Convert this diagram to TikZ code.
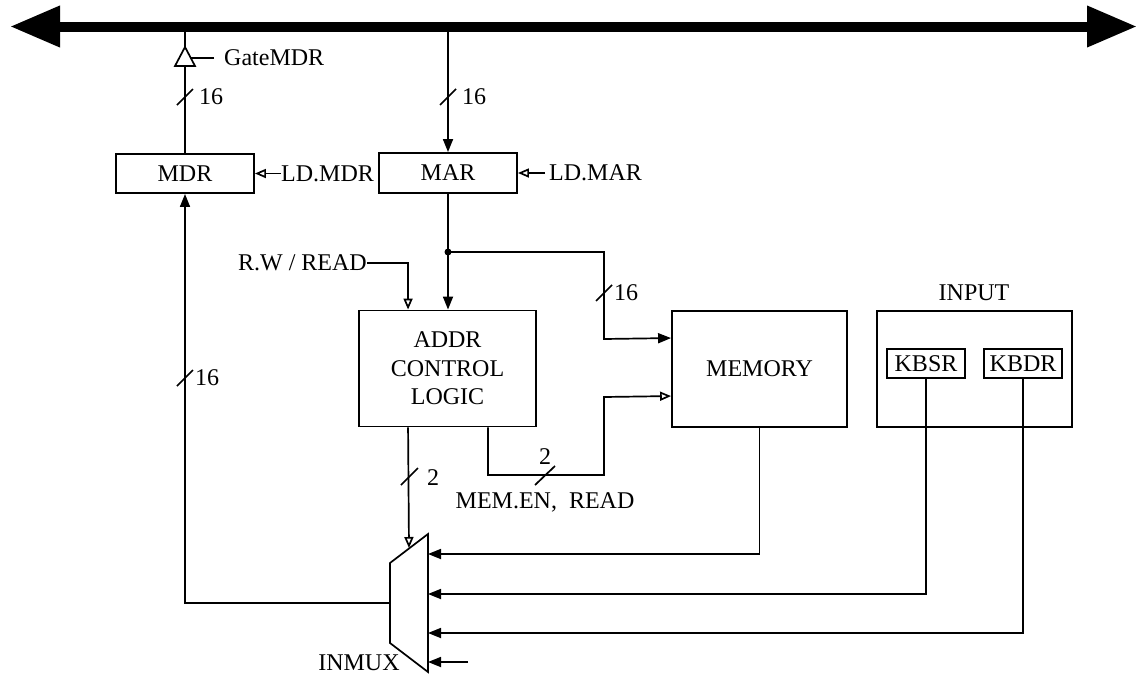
\documentclass[tikz,border=0pt]{standalone}
\usepackage{fontspec}
\setmainfont{Liberation Serif}
\usetikzlibrary{arrows.meta,calc}
\begin{document}
\begin{tikzpicture}[x=1pt,y=-1pt,
  every node/.style={font=\fontsize{24}{28.5}\selectfont, inner sep=0pt},
  wire/.style={line width=1.7pt},
  box/.style={draw, line width=1.9pt},
  arr/.style={wire, -{Triangle[length=13pt,width=10pt]}},
  openarr/.style={wire, -{Triangle[open,length=11pt,width=9pt]}},
  busline/.style={line width=10pt, {Triangle[length=50pt,width=39pt]}-{Triangle[length=50pt,width=39pt]}}]
\useasboundingbox (0,0) rectangle (1145,675);

% bus
\coordinate (busL) at (10,26.5);
\coordinate (busR) at (1137,26.5);
\draw[busline] (busL) -- (busR);

% boxes
\node[box, minimum width=138pt, minimum height=39pt] (MDR) at (185,173.5) {MDR};
\node[box, minimum width=138pt, minimum height=40pt] (MAR) at (448,173) {MAR};
\node[box, minimum width=177pt, minimum height=116pt, align=center] (ADDR) at (447.5,368.5) {ADDR\\CONTROL\\LOGIC};
\node[box, minimum width=175pt, minimum height=116pt] (MEM) at (759.5,369) {MEMORY};
\node[box, minimum width=195pt, minimum height=116pt] (INP) at (974.5,369) {};
\node (inputlbl) at (974,293) {INPUT};
\node[box, minimum width=78pt, minimum height=29pt] (KBSR) at (926,363.5) {KBSR};
\node[box, minimum width=78pt, minimum height=29pt] (KBDR) at (1023,363.5) {KBDR};

% tri-state buffer GateMDR
\coordinate (bufT) at (185,47);
\coordinate (bufBL) at (175,66);
\coordinate (bufBR) at (195,66);
\coordinate (bufB) at (185,66);
\coordinate (gateIn) at (191,58);
\draw[wire, line join=miter] (bufBL) -- (bufBR) -- (bufT) -- cycle;
\draw[wire] (MDR.north) -- (bufB);
\draw[wire] (bufT) -- (bufT |- busL);
\node[anchor=west] (gate) at (224,58) {GateMDR};
\draw[wire, shorten <=10pt] (gate.west) -- (gateIn);
\draw[wire] (177,105) -- ++(16,-16);
\node (l16a) at (211,97) {16};

% load signals
\node[anchor=west] (ldmdr) at (281,173.5) {LD.MDR};
\draw[openarr] (ldmdr.west) -- (MDR.east);
\node[anchor=west] (ldmar) at (549,173) {LD.MAR};
\draw[openarr, shorten <=4pt] (ldmar.west) -- (MAR.east);

% bus to MAR
\draw[arr] (MAR.north |- busL) -- (MAR.north);
\draw[wire] (440,105) -- ++(16,-16);
\node (l16b) at (474,97) {16};

% MAR to ADDR and MEMORY
\coordinate (j) at (448,252);
\draw[wire] (MAR.south) -- (j);
\fill (j) circle (3.5pt);
\draw[arr] (j) -- (j |- ADDR.north);
\draw[arr] (j) -- (604,252) -- (604,339) -- ($(MEM.north west)+(0,28)$);
\draw[wire] (596,301) -- ++(16,-16);
\node (l16c) at (626,293) {16};

% R.W / READ
\node[anchor=east] (rw) at (367,263) {R.W / READ};
\draw[openarr] (rw.east) -| ($(ADDR.north west)+(50,0)$);

% ADDR to MEMORY control
\draw[openarr] ($(ADDR.south east)+(-49,0)$) |- (604,475) -- (604,397) -- ($(MEM.north west)+(0,86)$);
\draw[wire] (535,485) -- (555,466);
\node (l2a) at (545,457) {2};
\node (memen) at (545,502) {MEM.EN,\ \ READ};

% INMUX
\coordinate (m1) at (390,563);
\coordinate (m2) at (428,534);
\coordinate (m3) at (428,672);
\coordinate (m4) at (390,643);
\draw[wire] (m1) -- (m2) -- (m3) -- (m4) -- cycle;
\node (inmux) at (359,663) {INMUX};
\coordinate (muxSel) at (409,548);
\coordinate (muxIn1) at (428,554);
\coordinate (muxIn2) at (428,594);
\coordinate (muxIn3) at (428,633);
\coordinate (muxIn4) at (428,662);
\coordinate (in4src) at (468,662);
\coordinate (muxOut) at (390,603);

\draw[openarr] ($(ADDR.south west)+(50,0)$) -- (muxSel);
\draw[wire] (401,485) -- ++(17,-17);
\node (l2b) at (433,478) {2};

\draw[arr] (MEM.south) |- (muxIn1);
\draw[arr] (KBSR.south) |- (muxIn2);
\draw[arr] (KBDR.south) |- (muxIn3);
\draw[arr] (in4src) -- (muxIn4);

% mux output to MDR
\draw[arr] (muxOut) -| (MDR.south);
\draw[wire] (177,386) -- ++(16,-16);
\node (l16d) at (207,378) {16};
\end{tikzpicture}
\end{document}
